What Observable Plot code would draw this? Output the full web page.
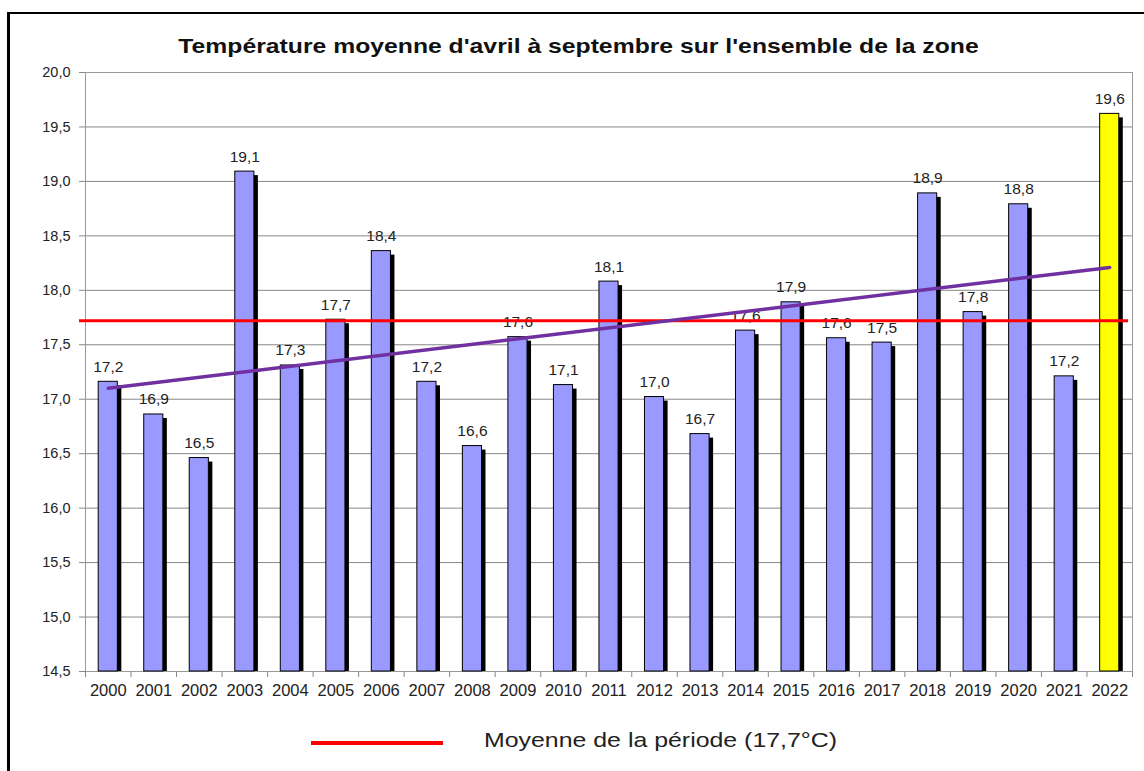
<!DOCTYPE html>
<html>
<head>
<meta charset="utf-8">
<script src="https://cdn.jsdelivr.net/npm/d3@7"></script>
<script src="https://cdn.jsdelivr.net/npm/@observablehq/plot@0.6"></script>
<style>
  html, body { margin: 0; padding: 0; background: #fff; }
  #wrap { position: relative; width: 1144px; height: 771px; overflow: hidden; font-family: "Liberation Sans", Arial, sans-serif; }
  #border { position: absolute; left: 7px; top: 12px; width: 1200px; height: 800px; border-left: 3px solid #000; border-top: 2px solid #000; }
  #title { position: absolute; top: 35px; left: 0; width: 1157px; text-align: center; font-weight: bold; font-size: 21px; line-height: 21px; color: #111; white-space: nowrap; transform: scaleX(1.178); transform-origin: 578.5px 0; }
  #chart { position: absolute; left: 0; top: 50px; }
  #legline { position: absolute; left: 311px; top: 741px; width: 132px; height: 4px; background: #ff0000; }
  #legtext { position: absolute; left: 484px; top: 729px; font-size: 21px; line-height: 21px; color: #222; white-space: nowrap; transform: scaleX(1.185); transform-origin: 0 0; }
</style>
</head>
<body>
<div id="wrap">
  <div id="border"></div>
  <div id="title">Température moyenne d'avril à septembre sur l'ensemble de la zone</div>
  <div id="chart"></div>
  <div id="legline"></div>
  <div id="legtext">Moyenne de la période (17,7°C)</div>
</div>
<script>
const years = ["2000","2001","2002","2003","2004","2005","2006","2007","2008","2009","2010","2011","2012","2013","2014","2015","2016","2017","2018","2019","2020","2021","2022"];
const temps = [17.16,16.86,16.46,19.09,17.31,17.73,18.36,17.16,16.57,17.57,17.13,18.08,17.02,16.68,17.63,17.89,17.56,17.52,18.89,17.80,18.79,17.21,19.62];
const highlightYear = "2022";
const periodMean = 17.72;
const trendYears = ["2000", "2022"];
const trendValues = [17.10, 18.21];
const yTicks = [14.5, 15.0, 15.5, 16.0, 16.5, 17.0, 17.5, 18.0, 18.5, 19.0, 19.5, 20.0];

const data = years.map((year, i) => ({year, v: temps[i]}));
const trend = trendYears.map((year, i) => ({year, t: trendValues[i]}));
const yMin = yTicks[0], yMax = yTicks[yTicks.length - 1];
const fr = d => d.toFixed(1).replace(".", ",");

const W = 1144, H = 660, mL = 85, mR = 12, mT = 22, mB = 39;
const step = (W - mL - mR) / years.length;

const chart = Plot.plot({
  width: W, height: H,
  marginLeft: mL, marginRight: mR, marginTop: mT, marginBottom: mB,
  style: {fontFamily: "'Liberation Sans', Arial, sans-serif", color: "#222", background: "transparent"},
  x: {type: "band", domain: years, paddingInner: 0.58, paddingOuter: 0.29, round: false},
  y: {domain: [yMin, yMax]},
  marks: [
    Plot.gridY(yTicks, {stroke: "#888", strokeOpacity: 1}),
    Plot.frame({stroke: "#999"}),
    Plot.axisY(yTicks, {tickSize: 6, tickPadding: 9, tickFormat: fr, fontSize: 14.5, stroke: "#888", fill: "#222", label: null}),
    Plot.axisX({tickSize: 6, dx: -step / 2, tickFormat: () => "", stroke: "#888", label: null}),
    Plot.axisX([years[years.length - 1]], {tickSize: 6, dx: step / 2, tickFormat: () => "", stroke: "#888", label: null}),
    Plot.axisX({tickSize: 0, tickPadding: 13, fontSize: 16.5, fill: "#222", label: null}),
    Plot.barY(data, {x: "year", y1: yMin, y2: "v", fill: "#000", dx: 4, dy: 4, clip: "frame"}),
    Plot.barY(data.filter(d => d.year !== highlightYear), {x: "year", y1: yMin, y2: "v", fill: "#9999ff", stroke: "#000", strokeWidth: 1}),
    Plot.barY(data.filter(d => d.year === highlightYear), {x: "year", y1: yMin, y2: "v", fill: "#ffff00", stroke: "#000", strokeWidth: 1}),
    Plot.text(data, {x: "year", y: "v", text: d => fr(d.v), dy: -10, lineAnchor: "bottom", fontSize: 15.5, fill: "#222"}),
    Plot.ruleY([periodMean], {stroke: "#ff0000", strokeWidth: 3, insetLeft: -6, insetRight: 4}),
    Plot.line(trend, {x: "year", y: "t", stroke: "#7030a0", strokeWidth: 3.5})
  ]
});
document.getElementById("chart").appendChild(chart);
</script>
</body>
</html>
